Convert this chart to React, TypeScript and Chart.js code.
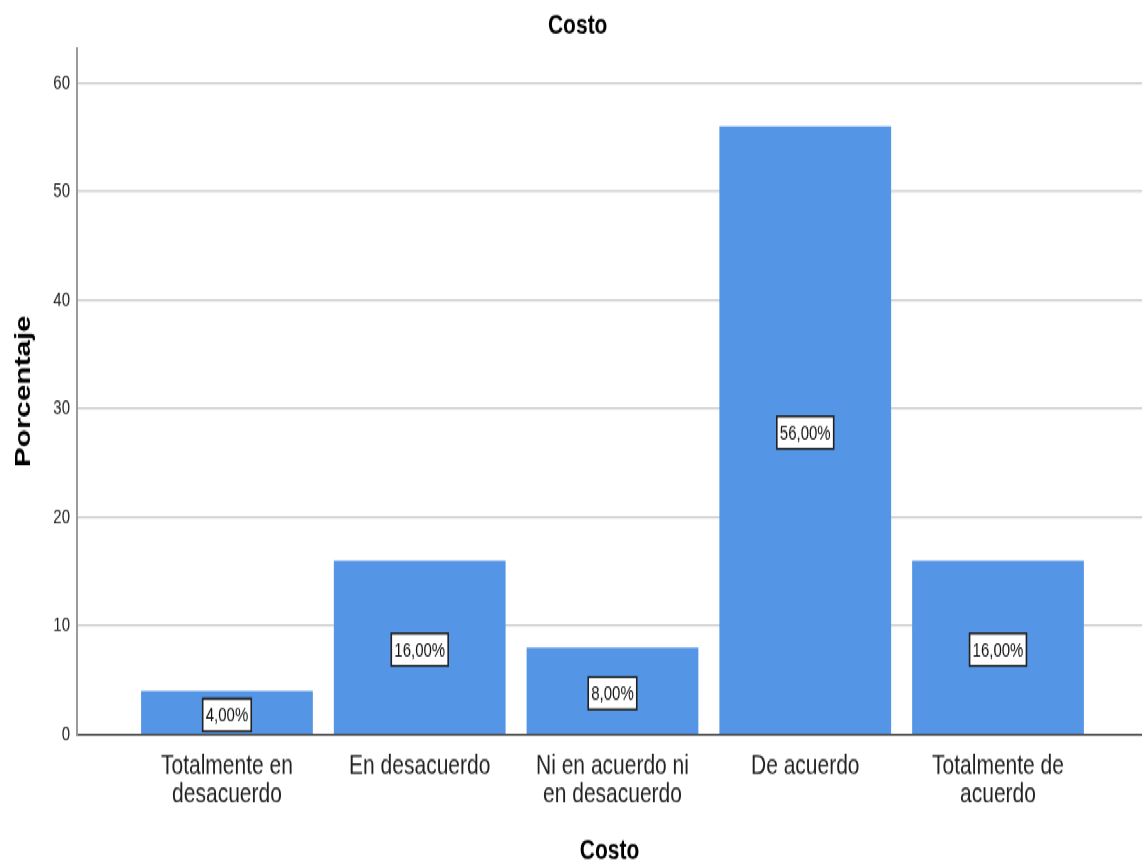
import { useEffect, useRef } from "react";
import { Chart, registerables } from "chart.js";

Chart.register(...registerables);

// ---- data ----
const categoryLines: string[][] = [
  ["Totalmente en", "desacuerdo"],
  ["En desacuerdo"],
  ["Ni en acuerdo ni", "en desacuerdo"],
  ["De acuerdo"],
  ["Totalmente de", "acuerdo"],
];
const percentages: number[] = [4, 16, 8, 56, 16];
const yTickValues: number[] = [0, 10, 20, 30, 40, 50, 60];
const chartTitle = "Costo";
const xAxisTitle = "Costo";
const yAxisTitle = "Porcentaje";

// ---- layout constants ----
const FONT = '"Liberation Sans", Arial, sans-serif';
const W = 1142;
const H = 640;
const FULL_H = 863;

const boxLabelPlugin = {
  id: "boxLabels",
  afterDatasetsDraw(chart: any) {
    const ctx = chart.ctx;
    const meta = chart.getDatasetMeta(0);
    ctx.save();
    ctx.font = `15px ${FONT}`;
    ctx.textAlign = "center";
    ctx.textBaseline = "middle";
    meta.data.forEach((el: any, i: number) => {
      const { x, y, base } = el.getProps(["x", "y", "base"], true);
      const text = percentages[i].toFixed(2).replace(".", ",") + "%";
      const tw = ctx.measureText(text).width;
      const bw = tw + 6;
      const bh = 24;
      const cy = (y + base) / 2 + 2;
      ctx.fillStyle = "#ffffff";
      ctx.fillRect(x - bw / 2, cy - bh / 2, bw, bh);
      ctx.strokeStyle = "#222222";
      ctx.lineWidth = 1.6;
      ctx.strokeRect(x - bw / 2, cy - bh / 2, bw, bh);
      ctx.fillStyle = "#111111";
      ctx.fillText(text, x, cy + 1);
    });
    ctx.restore();
  },
};

export default function App() {
  const ref = useRef<HTMLCanvasElement>(null);

  useEffect(() => {
    if (!ref.current) return;
    Chart.defaults.font.family = FONT;
    const chart = new Chart(ref.current, {
      type: "bar",
      data: {
        datasets: [
          {
            label: chartTitle,
            data: percentages.map((v, i) => ({ x: i, y: v })),
            backgroundColor: "#5595e5",
            borderWidth: 0,
            barPercentage: 0.891,
            categoryPercentage: 1,
          },
        ],
      },
      options: {
        responsive: false,
        animation: false,
        devicePixelRatio: 1,
        layout: { padding: { top: 0, left: 13.4, right: 0, bottom: 0 } },
        plugins: {
          legend: { display: false },
          tooltip: { enabled: false },
          title: {
            display: true,
            text: chartTitle,
            color: "#000000",
            font: { size: 21, weight: "bold", lineHeight: 1.2 },
            padding: { top: 7, bottom: 3.4 },
          },
        },
        scales: {
          x: {
            type: "linear",
            offset: false,
            min: -0.778,
            max: 4.747,
            afterBuildTicks: (s: any) => {
              s.ticks = categoryLines.map((_, i) => ({ value: i }));
            },
            afterFit: (s: any) => {
              s.height = H - 544.7;
            },
            grid: { display: false, drawTicks: false, offset: false },
            border: { display: true, color: "#3a3a3a", width: 1.5 },
            ticks: {
              autoSkip: false,
              maxRotation: 0,
              minRotation: 0,
              padding: 13.4,
              color: "#222222",
              font: { size: 21, lineHeight: 1 },
              callback: (v: any) => categoryLines[v as number] ?? "",
            },
            title: {
              display: true,
              text: xAxisTitle,
              color: "#000000",
              font: { size: 21, weight: "bold", lineHeight: 0.85 },
              padding: { top: 0, bottom: 0 },
            },
          },
          y: {
            type: "linear",
            min: 0,
            max: 63.22,
            afterBuildTicks: (s: any) => {
              s.ticks = yTickValues.map((v) => ({ value: v }));
            },
            afterFit: (s: any) => {
              s.width = 77 - 13.4;
            },
            grid: {
              drawTicks: false,
              lineWidth: 1.5,
              color: (c: any) => (c.tick && c.tick.value === 0 ? "rgba(0,0,0,0)" : "#cfcfcf"),
            },
            border: { display: true, color: "#9a9a9a", width: 2 },
            ticks: {
              padding: 7,
              color: "#222222",
              font: { size: 15 },
            },
            title: {
              display: true,
              text: yAxisTitle,
              color: "#000000",
              font: { size: 22, weight: "bold", lineHeight: 1 },
              padding: { top: 0, bottom: 0 },
            },
          },
        },
      },
      plugins: [boxLabelPlugin],
    } as any);
    return () => chart.destroy();
  }, []);

  return (
    <div
      style={{
        position: "fixed",
        left: 0,
        top: 0,
        width: W,
        height: H,
        background: "#ffffff",
        transform: `scaleY(${FULL_H / H})`,
        transformOrigin: "0 0",
      }}
    >
      <canvas ref={ref} width={W} height={H} style={{ display: "block", width: W, height: H }} />
    </div>
  );
}
